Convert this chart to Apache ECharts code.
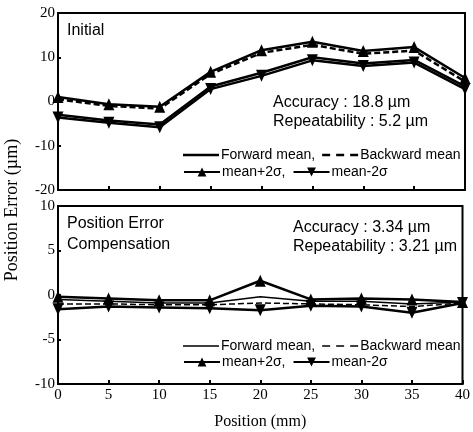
<!DOCTYPE html>
<html><head><meta charset="utf-8">
<script src="https://cdn.jsdelivr.net/npm/echarts@6/dist/echarts.min.js"></script>
<style>html,body{margin:0;padding:0;background:#fff}#c{width:473px;height:432px}</style>
</head><body><div id="c"></div>
<script>
const positions = [0, 5, 10, 15, 20, 25, 30, 35, 40];
const initForward  = [-3.0, -4.3, -5.2, 3.4, 6.5, 10.0, 8.6, 9.4, 3.4];
const initBackward = [0.5, -1.0, -1.6, 6.2, 11.0, 12.8, 10.8, 11.5, 4.5];
const initPlus     = [1.0, -0.6, -1.2, 6.7, 11.6, 13.5, 11.4, 12.3, 5.3];
const initMinus    = [-3.6, -4.8, -5.8, 2.8, 5.8, 9.3, 8.0, 8.8, 2.8];
const compForward  = [-0.5, -0.7, -0.9, -0.9, -0.2, -0.7, -0.7, -1.0, -0.8];
const compBackward = [-1.0, -1.0, -1.1, -1.1, -0.9, -1.0, -1.1, -1.3, -0.9];
const compPlus     = [-0.2, -0.4, -0.6, -0.6, 1.6, -0.5, -0.4, -0.5, -0.8];
const compMinus    = [-1.6, -1.3, -1.4, -1.5, -1.7, -1.2, -1.3, -2.0, -0.9];
const seriesKeys = ['fwd', 'bwd', 'plus', 'minus'];
const seriesLabels = ['Forward mean,', 'Backward mean', 'mean+2σ,', 'mean-2σ'];
const topYTicks = [-20, 20, 10];
const botYTicks = [-10, 10, 5];

const pair = arr => positions.map((x, i) => [x, arr[i]]);
const labelOf = name => seriesLabels[seriesKeys.indexOf(name.split('_')[0])];
const sans = 'Liberation Sans, Arial, sans-serif';
const serif = 'Liberation Serif, Times New Roman, serif';

function mk(key, panel, data, idx, thick) {
  const base = {
    name: key + '_' + panel, type: 'line', xAxisIndex: idx, yAxisIndex: idx,
    data: pair(data), animation: false, color: '#000',
    lineStyle: { color: '#000', width: thick }
  };
  if (key === 'plus') { base.symbol = 'triangle'; base.symbolSize = [11, 12]; base.itemStyle = {color: '#000'}; }
  else if (key === 'minus') { base.symbol = 'triangle'; base.symbolRotate = 180; base.symbolSize = [11, 12]; base.itemStyle = {color: '#000'}; }
  else { base.symbol = 'none'; }
  if (key === 'bwd') base.lineStyle.type = [6, 3];
  return base;
}

// legend line icons (36 x 11 bounding box, with invisible corner points)
function lineIcon(h, dashed) {
  const y0 = 5.5 - h / 2, y1 = 5.5 + h / 2;
  const seg = (a, b) => `M${a},${y0} L${b},${y0} L${b},${y1} L${a},${y1} Z `;
  const body = dashed ? seg(0, 8) + seg(14, 22) + seg(28, 36) : seg(0, 36);
  return 'path://M0,0 L0.01,0 L0,0.01 Z ' + body + 'M36,11 L35.99,11 L36,10.99 Z';
}

const chart = echarts.init(document.getElementById('c'));
const axisLine = { show: true, onZero: false, lineStyle: { color: '#000', width: 2 } };
const legendBase = (panel, keys, top, h) => ({
  left: 178, top: top, orient: 'horizontal', selectedMode: false,
  itemWidth: 36, itemHeight: 11, itemGap: 7,
  data: keys.map(k => k === 'fwd' ? { name: k + '_' + panel, icon: lineIcon(h, false) }
                   : k === 'bwd' ? { name: k + '_' + panel, icon: lineIcon(h, true) }
                   : { name: k + '_' + panel }),
  formatter: labelOf,
  textStyle: { fontFamily: sans, fontSize: 14, color: '#000', padding: [0, 0, 0, -3] },
  itemStyle: { borderWidth: 0 },
  symbolRotate: 'inherit'
});
chart.setOption({
  backgroundColor: '#fff',
  grid: [
    { left: 58, top: 13, width: 407, height: 177, show: true, borderColor: '#000', borderWidth: 2 },
    { left: 58, top: 206, width: 407, height: 178, show: true, borderColor: '#000', borderWidth: 2 }
  ],
  xAxis: [0, 1].map(i => ({
    type: 'value', gridIndex: i, min: 0, max: 40, interval: 5,
    axisLine: axisLine, splitLine: { show: false },
    axisTick: { show: true, inside: true, length: 4, lineStyle: { color: '#000', width: 2 } },
    axisLabel: { show: i === 1, fontFamily: serif, fontSize: 15, color: '#000', margin: 4 },
    name: i === 1 ? 'Position (mm)' : '', nameLocation: 'middle', nameGap: 30,
    nameTextStyle: { fontFamily: serif, fontSize: 16, color: '#000' }
  })),
  yAxis: [topYTicks, botYTicks].map((t, i) => ({
    type: 'value', gridIndex: i, min: t[0], max: t[1], interval: t[2],
    axisLine: axisLine, splitLine: { show: false },
    axisTick: { show: true, inside: true, length: 3, lineStyle: { color: '#000', width: 2 } },
    axisLabel: { fontFamily: serif, fontSize: 15, color: '#000', margin: 3 }
  })),
  legend: [
    legendBase('top', ['fwd', 'bwd'], 143, 2.5),
    legendBase('top', ['plus', 'minus'], 160, 2.5),
    legendBase('bot', ['fwd', 'bwd'], 334, 1.5),
    legendBase('bot', ['plus', 'minus'], 350, 2.5)
  ],
  series: [
    mk('fwd', 'top', initForward, 0, 2.5),
    mk('bwd', 'top', initBackward, 0, 2.5),
    mk('plus', 'top', initPlus, 0, 2.5),
    mk('minus', 'top', initMinus, 0, 2.5),
    mk('fwd', 'bot', compForward, 1, 1.5),
    mk('bwd', 'bot', compBackward, 1, 1.5),
    mk('plus', 'bot', compPlus, 1, 2.5),
    mk('minus', 'bot', compMinus, 1, 2.5)
  ],
  graphic: [
    { type: 'text', left: 67, top: 23, style: { text: 'Initial', font: '16px ' + sans, fill: '#000' } },
    { type: 'text', left: 273, top: 95, style: { text: 'Accuracy : 18.8 µm', font: '16px ' + sans, fill: '#000' } },
    { type: 'text', left: 273, top: 114, style: { text: 'Repeatability : 5.2 µm', font: '16px ' + sans, fill: '#000' } },
    { type: 'text', left: 67, top: 216, style: { text: 'Position Error', font: '16px ' + sans, fill: '#000' } },
    { type: 'text', left: 67, top: 237, style: { text: 'Compensation', font: '16px ' + sans, fill: '#000' } },
    { type: 'text', left: 293, top: 220, style: { text: 'Accuracy : 3.34 µm', font: '16px ' + sans, fill: '#000' } },
    { type: 'text', left: 293, top: 239, style: { text: 'Repeatability : 3.21 µm', font: '16px ' + sans, fill: '#000' } },
    { type: 'text', x: 12, y: 210, rotation: Math.PI / 2,
      style: { text: 'Position Error (µm)', font: '18px ' + serif, fill: '#000', align: 'center', verticalAlign: 'middle' } }
  ]
});
</script></body></html>
